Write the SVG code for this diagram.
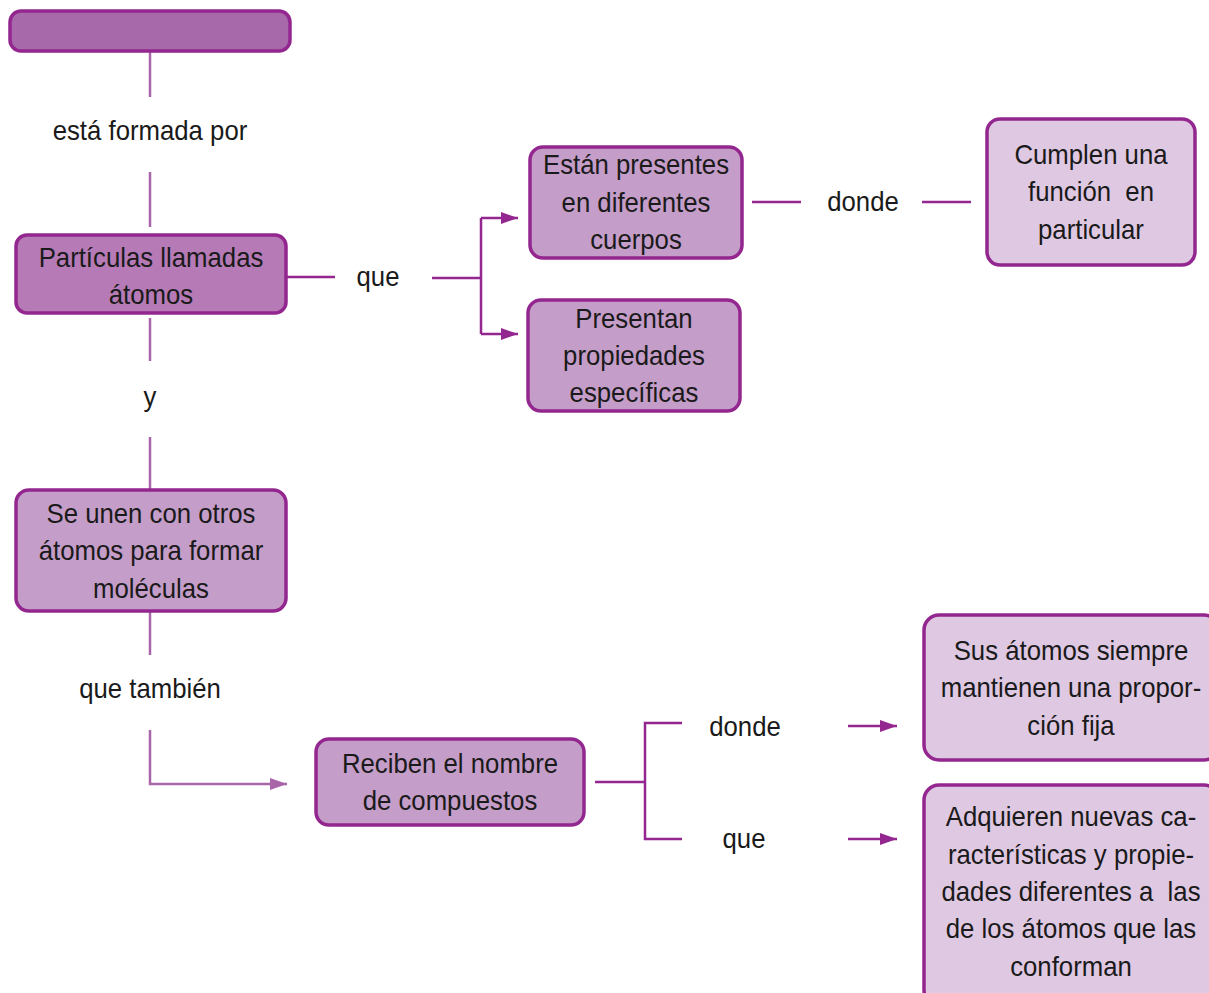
<svg xmlns="http://www.w3.org/2000/svg" width="1209" height="993" viewBox="0 0 1209 993">
<style>
text{font-family:"Liberation Sans",Arial,sans-serif;font-size:28px;fill:#1a1a1a;text-anchor:middle;dominant-baseline:central;white-space:pre;transform-box:fill-box;transform-origin:center;transform:scaleX(0.92)}
.box{stroke:#93278f;stroke-width:3.5}
.dark{fill:#a869aa}
.mid{fill:#c59dc9}
.mid2{fill:#b67bb6}
.light{fill:#dfc8e2}
.ln{fill:none;stroke:#93278f;stroke-width:2.5}
.lnl{fill:none;stroke:#a865a8;stroke-width:2.5}
</style>
<defs>
<marker id="ah" markerUnits="userSpaceOnUse" markerWidth="17" markerHeight="12" refX="17" refY="6" orient="auto">
<path d="M0,0 L17,6 L0,12 z" fill="#93278f"/>
</marker>
<marker id="ahl" markerUnits="userSpaceOnUse" markerWidth="17" markerHeight="12" refX="17" refY="6" orient="auto">
<path d="M0,0 L17,6 L0,12 z" fill="#a865a8"/>
</marker>
</defs>
<g id="connectors">
<path class="lnl" d="M150,51 V97"/>
<path class="lnl" d="M150,172 V227"/>
<path class="ln" d="M286,277 H335"/>
<path class="ln" d="M432,278 H481 M481,218 V334"/>
<path class="ln" d="M481,218 H518" marker-end="url(#ah)"/>
<path class="ln" d="M481,334 H518" marker-end="url(#ah)"/>
<path class="ln" d="M752,202 H801"/>
<path class="ln" d="M922,202 H971"/>
<path class="lnl" d="M150,318 V361"/>
<path class="lnl" d="M150,437 V490"/>
<path class="lnl" d="M150,611 V655"/>
<path class="lnl" d="M150,730 V784 H287" marker-end="url(#ahl)"/>
<path class="ln" d="M595,782 H645 M682,723 H645 V839 H682"/>
<path class="ln" d="M848,726 H897" marker-end="url(#ah)"/>
<path class="ln" d="M848,839 H897" marker-end="url(#ah)"/>
</g>
<g id="labels">
<text x="150" y="131">está formada por</text>
<text x="378" y="277">que</text>
<text x="863" y="202">donde</text>
<text x="150" y="397">y</text>
<text x="150" y="689">que también</text>
<text x="745" y="727">donde</text>
<text x="744" y="839">que</text>
</g>
<g id="n-top"><rect class="box dark" x="10" y="11" width="280" height="40" rx="11"/></g>
<g id="n-particulas"><rect class="box mid2" x="16" y="235" width="270" height="78" rx="11"/>
<text x="151" y="258">Partículas llamadas</text><text x="151" y="295">átomos</text></g>
<g id="n-estan"><rect class="box mid" x="530" y="147" width="212" height="111" rx="13"/>
<text x="636" y="165">Están presentes</text><text x="636" y="203">en diferentes</text><text x="636" y="240">cuerpos</text></g>
<g id="n-presentan"><rect class="box mid" x="528" y="300" width="212" height="111" rx="13"/>
<text x="634" y="319">Presentan</text><text x="634" y="356">propiedades</text><text x="634" y="393">específicas</text></g>
<g id="n-cumplen"><rect class="box light" x="987" y="119" width="208" height="146" rx="13"/>
<text x="1091" y="155">Cumplen una</text><text x="1091" y="192">función  en</text><text x="1091" y="230">particular</text></g>
<g id="n-seunen"><rect class="box mid" x="16" y="490" width="270" height="121" rx="13"/>
<text x="151" y="514">Se unen con otros</text><text x="151" y="551">átomos para formar</text><text x="151" y="589">moléculas</text></g>
<g id="n-reciben"><rect class="box mid" x="316" y="739" width="268" height="86" rx="13"/>
<text x="450" y="764">Reciben el nombre</text><text x="450" y="801">de compuestos</text></g>
<g id="n-sus"><rect class="box light" x="924" y="615" width="295" height="145" rx="15"/>
<text x="1071" y="651">Sus átomos siempre</text><text x="1071" y="688">mantienen una propor-</text><text x="1071" y="726">ción fija</text></g>
<g id="n-adquieren"><rect class="box light" x="924" y="785" width="295" height="220" rx="15"/>
<text x="1071" y="817">Adquieren nuevas ca-</text><text x="1071" y="855">racterísticas y propie-</text><text x="1071" y="892">dades diferentes a  las</text><text x="1071" y="929">de los átomos que las</text><text x="1071" y="967">conforman</text></g>
</svg>
